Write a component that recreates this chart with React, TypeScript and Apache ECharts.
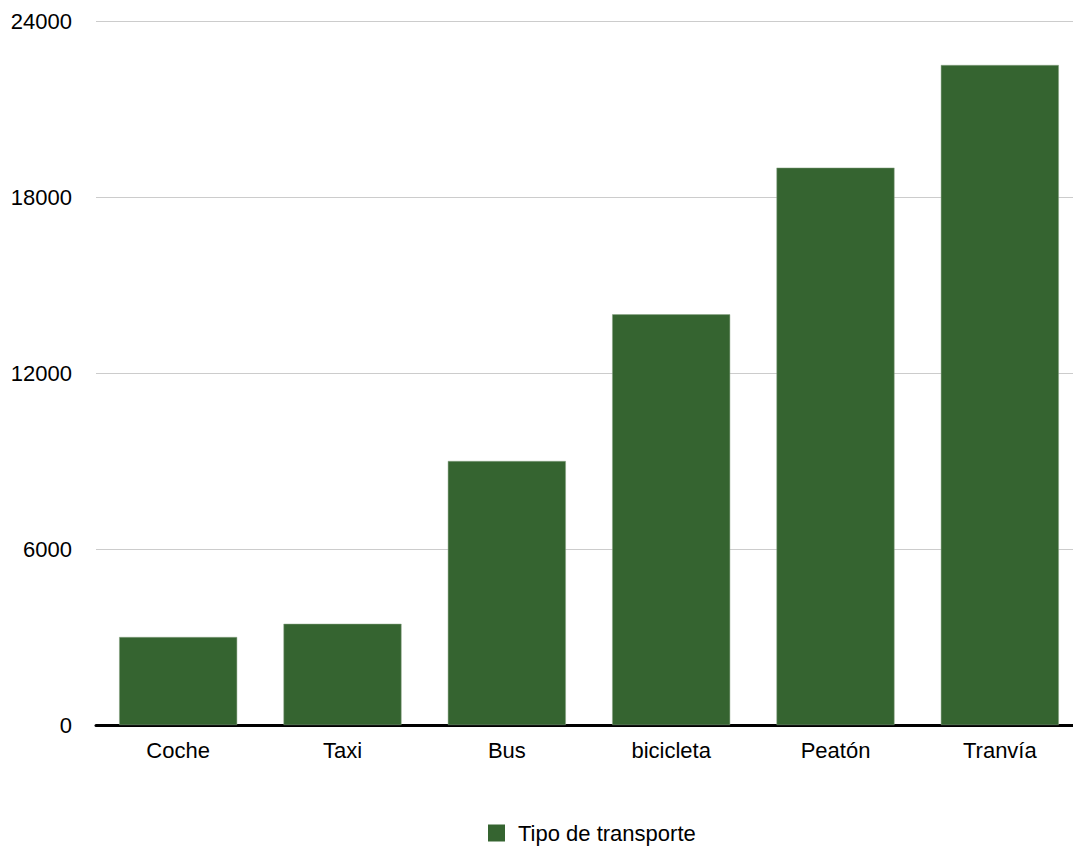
import React, { useEffect, useRef } from "react";
import * as echarts from "echarts";

const categories = ["Coche", "Taxi", "Bus", "bicicleta", "Peatón", "Tranvía"];
const values = [3000, 3450, 9000, 14000, 19000, 22500];
const seriesName = "Tipo de transporte";
const yTicks = { min: 0, max: 24000, interval: 6000 };

export default function App() {
  const ref = useRef<HTMLDivElement>(null);
  useEffect(() => {
    if (!ref.current) return;
    const chart = echarts.init(ref.current, null, { renderer: "svg" });
    const font = "'Liberation Sans', Arial, sans-serif";
    chart.setOption({
      animation: false,
      backgroundColor: "#ffffff",
      textStyle: { fontFamily: font },
      grid: { left: 96, right: 0, top: 21, bottom: 123, containLabel: false },
      legend: {
        left: 483,
        top: 817,
        itemWidth: 17,
        itemHeight: 17,
        icon: "rect",
        data: [seriesName],
        itemStyle: { borderWidth: 0 },
        textStyle: { fontFamily: font, fontSize: 22, color: "#000", padding: [0, 0, 0, 8] },
      },
      xAxis: {
        type: "category",
        data: categories,
        axisTick: { show: false },
        axisLine: { show: true, lineStyle: { color: "#000", width: 3 } },
        axisLabel: { color: "#000", fontSize: 22, fontFamily: font, margin: 14 },
      },
      yAxis: {
        type: "value",
        min: yTicks.min,
        max: yTicks.max,
        interval: yTicks.interval,
        axisLine: { show: false },
        axisTick: { show: false },
        axisLabel: {
          color: "#000",
          fontSize: 22,
          fontFamily: font,
          margin: 24,
          formatter: (v: number) => String(v),
        },
        splitLine: { lineStyle: { color: "#cccccc", width: 1 } },
      },
      series: [
        {
          name: seriesName,
          type: "bar",
          data: values,
          barWidth: 118,
          itemStyle: { color: "#356430", borderColor: "#8aa587", borderWidth: 0.5 },
        },
      ],
    });
    return () => chart.dispose();
  }, []);
  return (
    <div style={{ position: "absolute", left: 0, top: 0, width: 1073, height: 848, overflow: "hidden" }}>
      <div ref={ref} style={{ width: 1082, height: 848 }} />
    </div>
  );
}
